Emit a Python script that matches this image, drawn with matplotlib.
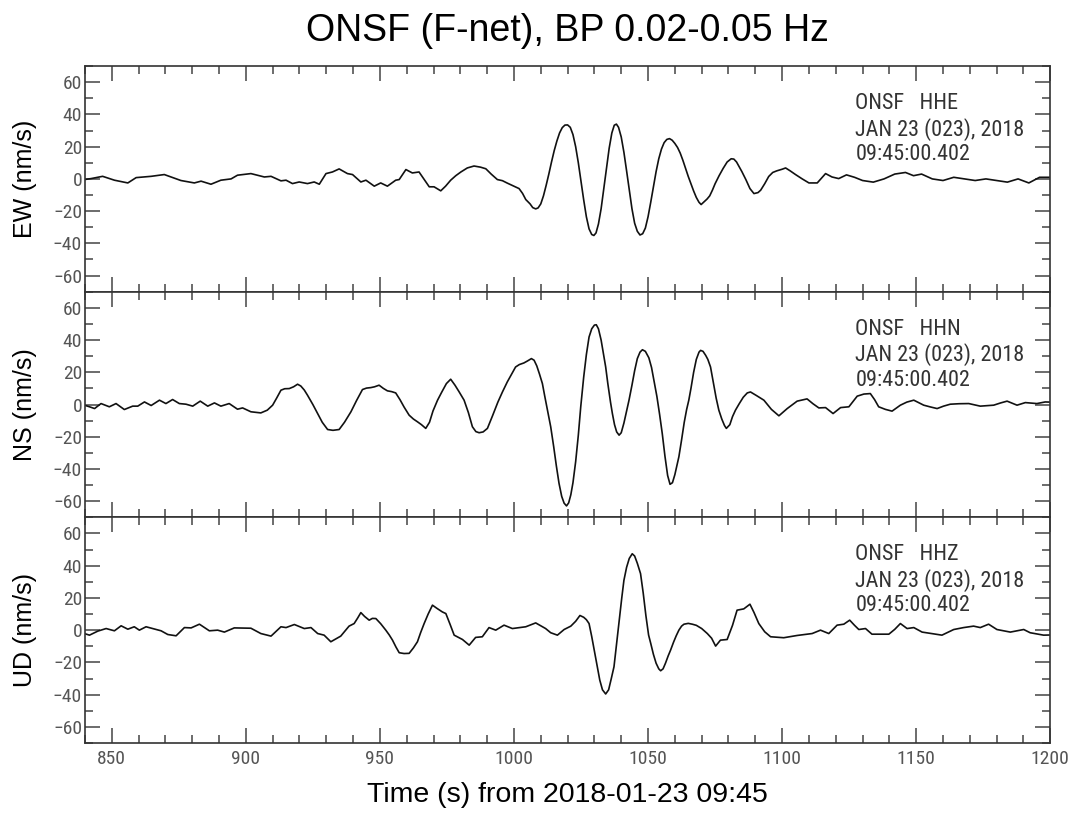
import matplotlib
matplotlib.use("Agg")
import matplotlib.pyplot as plt
from matplotlib import font_manager
from matplotlib.font_manager import FontProperties
from matplotlib.ticker import MultipleLocator

# Velocity traces, seconds from 2018-01-23 09:45, nm/s
ew_t = [839.8, 842.3, 846.6, 851.0, 856.0, 859.1, 864.7, 869.6, 875.8, 880.8,
        883.3, 887.0, 890.7, 894.5, 896.9, 901.9, 906.9, 909.4, 913.1, 915.0,
        917.4, 919.9, 923.0, 925.5, 927.4, 929.9, 932.3, 934.8, 937.9, 939.8,
        942.9, 944.8, 947.9, 950.3, 952.8, 955.9, 957.2, 959.7, 962.1, 964.6,
        968.4, 970.2, 972.7, 974.5, 976.4, 978.3, 980.2, 982.6, 985.1, 987.5,
        989.5, 991.5, 993.8, 995.7, 997.5, 999.4, 1001.9, 1003.2, 1004.4, 1006.0,
        1007.0, 1008.1, 1009.0, 1010.0, 1011.0, 1012.0, 1013.0, 1014.0, 1015.0, 1016.0,
        1017.0, 1018.0, 1019.0, 1020.0, 1021.0, 1022.0, 1023.0, 1024.0, 1025.0, 1026.0,
        1027.0, 1028.0, 1029.0, 1029.8, 1030.6, 1031.5, 1032.5, 1033.5, 1034.5, 1035.5,
        1036.5, 1037.4, 1038.2, 1039.0, 1040.0, 1041.0, 1042.0, 1043.0, 1044.0, 1045.0,
        1046.0, 1047.0, 1048.0, 1049.0, 1050.0, 1051.0, 1052.0, 1053.0, 1054.0, 1055.0,
        1056.0, 1057.0, 1058.0, 1059.0, 1060.0, 1061.0, 1062.0, 1063.0, 1064.0, 1065.0,
        1066.0, 1067.0, 1068.0, 1069.0, 1069.8, 1071.0, 1072.0, 1073.0, 1074.0, 1075.0,
        1076.5, 1078.0, 1079.5, 1081.0, 1082.0, 1083.0, 1084.0, 1085.0, 1086.5, 1088.0,
        1089.5, 1091.0, 1092.0, 1093.5, 1095.0, 1096.5, 1098.0, 1100.0, 1101.3, 1103.0,
        1105.0, 1107.5, 1110.0, 1113.1, 1114.7, 1116.2, 1118.6, 1121.1, 1124.0, 1127.0,
        1130.0, 1134.0, 1138.0, 1142.0, 1146.0, 1149.0, 1152.0, 1156.0, 1160.0, 1164.0,
        1168.0, 1172.0, 1176.0, 1180.0, 1184.0, 1188.0, 1192.0, 1196.0, 1200.0]
ew_v = [-0.4, 0.2, 1.6, -0.8, -2.5, 0.8, 1.6, 2.7, -1.0, -2.5,
        -1.4, -3.3, -0.8, 0.0, 2.3, 3.3, 1.2, 1.6, -1.2, -0.8,
        -2.9, -1.9, -2.9, -1.9, -3.3, 3.3, 4.3, 6.2, 3.3, 2.7,
        -1.9, -0.8, -4.5, -2.5, -4.5, -0.8, -0.4, 5.8, 3.7, 4.3,
        -4.9, -4.9, -7.4, -4.5, -0.8, 2.0, 4.3, 6.8, 8.0, 7.3,
        6.3, 3.0, -0.4, -1.1, -2.6, -4.1, -6.0, -9.0, -12.8, -15.5,
        -17.8, -18.6, -18.0, -15.5, -10.5, -4.0, 3.0, 10.5, 17.5, 23.5,
        28.5, 31.8, 33.4, 33.5, 32.0, 27.5, 20.0, 10.0, -1.5, -13.0,
        -23.5, -31.0, -34.5, -35.1, -33.5, -28.0, -18.5, -6.0, 7.0, 19.0,
        28.5, 33.3, 34.0, 32.0, 26.0, 16.5, 5.0, -7.0, -18.5, -27.5,
        -32.5, -34.8, -34.0, -30.5, -23.5, -14.5, -5.0, 4.5, 12.5, 18.5,
        22.5, 24.5, 25.0, 24.0, 22.0, 19.5, 16.0, 11.5, 6.5, 1.5,
        -3.0, -7.5, -11.5, -14.5, -15.9, -14.0, -12.5, -10.5, -7.0, -3.0,
        2.0, 6.5, 10.5, 12.5, 12.3, 10.5, 7.5, 4.5, -0.5, -6.0,
        -9.1, -8.5, -7.0, -3.0, 1.5, 4.0, 5.0, 6.0, 6.8, 5.0,
        2.7, 0.0, -2.5, -2.5, 0.5, 3.3, 1.2, 0.2, 2.5, 1.0,
        -1.0, -2.0, 0.0, 3.0, 4.0, 2.0, 3.0, 0.0, -1.0, 1.0,
        0.0, -1.0, 0.0, -1.0, -2.0, 0.0, -2.5, 1.0, 1.0]

ns_t = [839.8, 841.7, 843.6, 846.0, 849.1, 851.6, 854.7, 857.8, 859.7, 862.2,
        864.7, 867.8, 870.2, 872.7, 875.2, 877.7, 880.2, 883.0, 885.8, 888.3,
        890.7, 893.8, 896.9, 898.8, 901.9, 905.6, 908.0, 910.0, 911.5, 913.1,
        914.5, 916.2, 917.8, 919.3, 920.5, 921.8, 923.0, 925.0, 926.8, 928.5,
        930.5, 932.5, 934.8, 936.8, 939.2, 941.3, 943.5, 945.0, 946.6, 948.0,
        949.7, 951.3, 952.8, 954.4, 955.9, 957.5, 959.0, 960.9, 962.5, 964.0,
        965.5, 967.1, 968.5, 969.8, 971.5, 973.0, 974.8, 976.4, 978.0, 979.5,
        981.4, 983.0, 984.5, 985.8, 987.0, 988.5, 990.1, 992.0, 994.0, 995.7,
        997.5, 999.0, 1000.6, 1002.0, 1003.7, 1005.0, 1006.5, 1007.5, 1008.5, 1009.5,
        1010.6, 1011.5, 1012.5, 1013.7, 1014.8, 1015.8, 1016.8, 1017.8, 1018.7, 1019.6,
        1020.4, 1021.2, 1022.0, 1023.0, 1024.0, 1024.9, 1026.0, 1027.0, 1028.0, 1029.0,
        1030.0, 1030.7, 1031.5, 1032.5, 1033.5, 1034.2, 1035.0, 1036.0, 1036.7, 1037.5,
        1038.3, 1039.2, 1040.0, 1041.0, 1042.0, 1042.9, 1044.0, 1045.0, 1046.0, 1047.0,
        1047.9, 1049.0, 1050.3, 1051.3, 1052.3, 1053.3, 1054.3, 1055.3, 1056.3, 1057.3,
        1058.2, 1059.1, 1060.0, 1061.0, 1061.5, 1062.5, 1063.5, 1064.4, 1065.2, 1066.0,
        1067.0, 1068.0, 1069.0, 1069.6, 1070.5, 1071.5, 1072.3, 1073.3, 1074.3, 1075.4,
        1076.4, 1077.5, 1078.5, 1079.2, 1080.5, 1081.5, 1082.6, 1084.0, 1085.5, 1087.0,
        1088.2, 1090.5, 1093.2, 1096.0, 1098.8, 1101.9, 1105.6, 1109.3, 1111.5, 1113.7,
        1116.2, 1119.0, 1121.8, 1124.9, 1126.5, 1128.0, 1130.5, 1132.9, 1134.5, 1136.0,
        1138.5, 1141.0, 1144.1, 1146.5, 1149.1, 1152.8, 1155.3, 1157.8, 1160.2, 1162.7,
        1166.0, 1169.6, 1173.9, 1178.9, 1181.5, 1183.9, 1187.6, 1190.7, 1195.0, 1198.1,
        1200.0]
ns_v = [-0.4, -1.4, -2.5, 0.6, -1.4, 0.6, -3.1, -1.0, -1.0, 1.6,
        -0.6, 2.7, 0.6, 3.1, 0.6, 0.2, -1.0, 2.1, -1.0, 1.0,
        -1.0, 0.6, -2.9, -2.1, -4.5, -5.2, -3.5, -0.4, 4.0, 8.9,
        9.8, 9.9, 11.0, 12.6, 11.5, 9.0, 5.8, 0.0, -5.6, -11.0,
        -15.5, -16.0, -15.5, -11.0, -4.5, 2.5, 9.3, 10.2, 10.5, 11.0,
        12.0, 10.0, 8.5, 8.0, 7.2, 3.0, -1.5, -6.6, -9.0, -10.7,
        -12.5, -14.8, -11.0, -4.0, 2.7, 7.5, 13.0, 15.7, 12.0, 8.0,
        2.7, -5.0, -13.8, -16.8, -17.5, -17.0, -14.8, -7.0, 1.5, 7.8,
        14.0, 18.5, 23.3, 24.8, 25.8, 27.0, 28.5, 27.5, 24.0, 19.0,
        13.0, 5.0, -3.5, -13.8, -26.0, -38.0, -48.9, -57.0, -61.2, -62.9,
        -61.0, -56.0, -48.5, -35.5, -19.0, -1.4, 17.0, 31.0, 41.9, 47.0,
        49.3, 49.5, 47.0, 40.0, 30.0, 23.3, 13.0, 1.5, -5.6, -12.5,
        -17.0, -19.0, -17.5, -11.5, -4.0, 2.7, 12.0, 21.0, 28.5, 32.5,
        34.0, 33.0, 29.0, 23.0, 14.0, 5.0, -6.0, -18.0, -32.0, -44.0,
        -49.5, -48.5, -43.5, -36.0, -32.4, -22.0, -11.0, -3.0, 2.7, 10.0,
        20.0, 28.0, 32.5, 33.6, 33.0, 30.5, 28.0, 23.3, 14.0, 4.0,
        -3.5, -9.0, -13.0, -14.8, -12.5, -7.5, -3.5, 0.5, 4.5, 7.2,
        7.8, 5.5, 2.7, -3.0, -7.0, -2.5, 2.1, 3.5, 0.5, -2.1,
        -1.9, -5.6, -1.9, -1.4, 2.0, 5.2, 6.5, 6.8, 3.0, -1.4,
        -3.0, -4.1, -0.4, 1.5, 2.7, -0.4, -1.5, -2.5, -1.0, 0.2,
        0.5, 0.6, -1.0, -0.4, 1.0, 2.1, -0.4, 1.2, 0.6, 1.6,
        1.5]

ud_t = [839.8, 841.7, 844.8, 847.9, 851.0, 853.5, 856.0, 858.4, 860.3, 862.8,
        865.3, 868.4, 870.9, 874.0, 877.1, 879.6, 882.7, 886.4, 889.5, 892.0,
        895.7, 901.9, 905.6, 909.4, 913.1, 915.0, 918.1, 921.8, 924.3, 926.8,
        929.2, 931.7, 933.5, 935.4, 937.0, 938.5, 940.4, 941.7, 942.9, 944.3,
        946.0, 947.2, 948.5, 950.3, 952.2, 953.5, 954.7, 956.0, 957.2, 959.0,
        960.9, 962.5, 964.0, 965.2, 966.5, 968.0, 969.6, 971.3, 973.3, 974.6,
        976.2, 977.7, 979.3, 980.8, 982.0, 983.3, 985.7, 988.2, 990.7, 993.2,
        996.3, 999.4, 1004.4, 1008.1, 1011.8, 1013.7, 1016.2, 1018.7, 1021.2, 1023.0,
        1024.6, 1026.0, 1027.0, 1028.0, 1029.0, 1030.0, 1031.1, 1032.0, 1033.0, 1034.2,
        1035.3, 1036.3, 1037.3, 1038.3, 1039.3, 1040.2, 1041.0, 1042.0, 1043.0, 1044.1,
        1045.0, 1046.0, 1047.2, 1048.2, 1049.2, 1050.2, 1051.0, 1052.0, 1053.0, 1054.0,
        1054.7, 1055.6, 1056.5, 1057.5, 1058.4, 1059.5, 1060.5, 1061.5, 1062.5, 1063.4,
        1065.0, 1066.5, 1068.0, 1070.0, 1072.1, 1073.7, 1075.2, 1077.0, 1079.5, 1081.5,
        1083.2, 1085.7, 1088.0, 1089.5, 1091.3, 1093.5, 1095.7, 1100.6, 1105.6, 1111.2,
        1114.3, 1117.4, 1120.5, 1123.0, 1125.2, 1127.0, 1128.6, 1131.1, 1133.5, 1139.8,
        1142.0, 1144.1, 1146.6, 1149.1, 1152.2, 1159.6, 1164.0, 1167.7, 1171.4, 1173.9,
        1177.0, 1180.1, 1185.1, 1190.1, 1192.5, 1197.5, 1200.0]
ud_v = [-2.1, -3.1, -0.6, 1.0, -0.4, 2.7, 0.6, 2.1, 0.0, 2.1,
        1.0, -0.4, -2.7, -3.5, 1.6, 1.4, 3.7, -0.4, 0.0, -1.2,
        1.4, 1.2, -2.1, -3.7, 2.1, 1.6, 3.5, 1.0, 1.6, -2.1,
        -3.1, -7.2, -5.5, -3.7, -0.5, 2.5, 4.1, 7.5, 10.9, 8.5,
        6.2, 7.3, 7.2, 4.0, 0.0, -3.0, -6.2, -10.5, -14.0, -14.5,
        -14.4, -11.0, -7.2, -1.5, 4.1, 10.0, 15.5, 13.5, 11.3, 10.3,
        3.5, -3.1, -4.5, -5.8, -7.5, -9.3, -4.5, -4.1, 1.6, 0.0,
        3.1, 1.0, 2.1, 4.5, 1.0, -1.6, -3.1, 0.4, 2.5, 5.5,
        9.1, 8.0, 6.5, 4.1, -4.0, -13.0, -22.7, -31.0, -37.0, -39.6,
        -37.0, -30.0, -22.7, -8.0, 7.0, 20.0, 30.9, 39.0, 44.5, 47.4,
        46.0, 41.5, 35.1, 23.0, 9.0, -3.0, -8.2, -15.0, -20.5, -24.0,
        -25.2, -24.0, -20.5, -16.0, -12.4, -7.5, -3.5, 0.0, 2.5, 3.7,
        4.2, 3.7, 3.0, 1.0, -2.1, -5.0, -9.9, -6.2, -5.8, 3.0,
        12.4, 13.2, 16.1, 11.0, 4.1, -1.0, -4.1, -4.7, -3.3, -2.1,
        0.0, -2.1, 3.1, 3.7, 6.2, 3.0, 0.4, 1.0, -2.5, -2.5,
        0.5, 4.1, 1.0, 1.6, -1.2, -3.1, 0.4, 1.6, 2.5, 1.6,
        3.7, 0.4, -1.2, 0.4, -1.6, -3.1, -3.0]

labels = ["EW (nm/s)", "NS (nm/s)", "UD (nm/s)"]
channels = ["HHE", "HHN", "HHZ"]
traces = [(ew_t, ew_v), (ns_t, ns_v), (ud_t, ud_v)]

plt.rcParams["font.family"] = ["Liberation Sans", "DejaVu Sans"]

# narrow sans face for ticks and the header text, if one is installed
narrow_file = None
for f in font_manager.fontManager.ttflist:
    if f.style != "normal" or f.weight not in (400, "normal", "regular"):
        continue
    if any(k in f.name for k in ("Serif", "Mono", "CJK")):
        continue
    if "Narrow" in f.name or "Condensed" in f.name or f.stretch in ("condensed", "semi-condensed"):
        narrow_file = f.fname
        if "Liberation" in f.name:
            break
if narrow_file:
    tick_fp = FontProperties(fname=narrow_file, size=14)
    head_fp = FontProperties(fname=narrow_file, size=15)
else:
    tick_fp = FontProperties(family="Liberation Sans", size=13)
    head_fp = FontProperties(family="Liberation Sans", size=14)

fig, axs = plt.subplots(3, 1, sharex=True, figsize=(10.75, 8.16), dpi=100)
fig.subplots_adjust(left=0.079, right=0.977, top=0.919, bottom=0.0895, hspace=0)


def fit_size(fp, s, target_px):
    # scale the font so that s is target_px wide on the canvas
    r = fig.canvas.get_renderer()
    tmp = fig.text(0, 0, s, fontproperties=fp)
    w = tmp.get_window_extent(r).width
    tmp.remove()
    fp.set_size(fp.get_size() * target_px / w)


fit_size(tick_fp, "850", 29)
fit_size(head_fp, "JAN 23 (023), 2018", 170)

for i, ax in enumerate(axs):
    t, v = traces[i]
    ax.plot(t, v, color="#111111", lw=1.2)
    ax.set_xlim(840, 1200)
    ax.set_ylim(-70, 70)
    ax.xaxis.set_major_locator(MultipleLocator(50))
    ax.xaxis.set_minor_locator(MultipleLocator(10))
    ax.yaxis.set_major_locator(MultipleLocator(20))
    ax.yaxis.set_minor_locator(MultipleLocator(10))
    ax.tick_params(which="both", direction="in", top=True, right=True,
                   color="#444444", width=1.1)
    ax.tick_params(which="major", length=11)
    ax.tick_params(which="minor", length=5.5)
    ax.tick_params(axis="y", pad=2, labelcolor="#555555")
    ax.tick_params(axis="x", pad=5, labelcolor="#555555")
    for lab in ax.get_xticklabels() + ax.get_yticklabels():
        lab.set_fontproperties(tick_fp)
    for sp in ax.spines.values():
        sp.set_color("#333333")
        sp.set_linewidth(1.2)
    ax.set_ylabel(labels[i], fontsize=18)
    ax.yaxis.set_label_coords(-0.05, 0.5)
    ax.text(0.798, 0.88, "ONSF   " + channels[i] + "\nJAN 23 (023), 2018\n09:45:00.402",
            transform=ax.transAxes, ha="left", va="top", fontproperties=head_fp,
            color="#333333", linespacing=1.2)

fig.text(0.528, 0.962, "ONSF (F-net), BP 0.02-0.05 Hz", ha="center", va="center", fontsize=27)
fig.text(0.528, 0.026, "Time (s) from 2018-01-23 09:45", ha="center", va="center", fontsize=20.5)

fig.savefig("out.png", dpi=100)
